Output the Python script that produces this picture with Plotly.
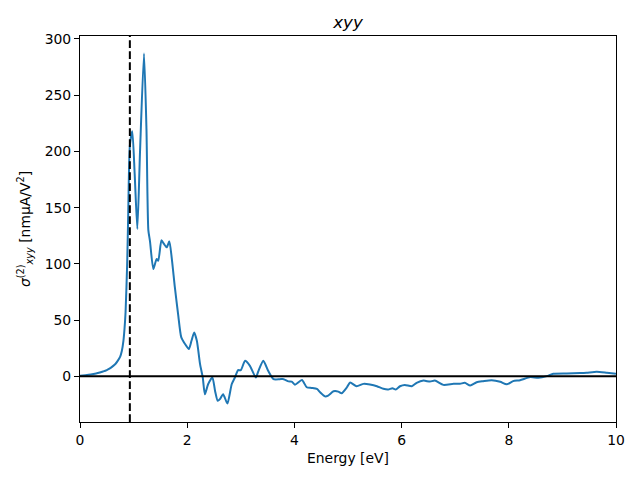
import plotly.graph_objects as go

energy = [0, 0.1, 0.2, 0.3, 0.37, 0.45, 0.5, 0.55, 0.62, 0.66, 0.7, 0.75, 0.78, 0.81, 0.83, 0.85, 0.88,
          0.90, 0.93, 0.976, 1.02, 1.07,
          1.12, 1.194, 1.24, 1.275, 1.306, 1.368, 1.43, 1.46, 1.52, 1.567, 1.617, 1.667, 1.71,
          1.77, 1.83, 1.89, 1.96, 2.03, 2.08, 2.13, 2.18, 2.24, 2.29, 2.33, 2.39, 2.47, 2.52,
          2.57, 2.61, 2.67, 2.75, 2.83, 2.89, 2.95, 3.0, 3.08, 3.17, 3.28, 3.33, 3.42, 3.51,
          3.61, 3.73, 3.80, 3.89, 3.95, 4.01, 4.14, 4.23, 4.32, 4.42, 4.48, 4.57, 4.63, 4.73,
          4.82, 4.88, 4.98, 5.04, 5.16, 5.29, 5.41, 5.54, 5.66, 5.75, 5.83, 5.89, 5.97, 6.06,
          6.19, 6.28, 6.41, 6.53, 6.62, 6.78, 6.97, 7.09, 7.18, 7.28, 7.40, 7.52, 7.68, 7.84,
          7.96, 8.08, 8.21, 8.40, 8.55, 8.71, 8.83, 9.08, 9.33, 9.45, 9.64, 9.83, 10.0]
sigma = [0.5, 1.0, 1.6, 2.5, 3.4, 4.6, 5.6, 6.8, 9.3, 11.0, 13.5, 17.5, 22.5, 31.6, 42, 57, 100,
         145, 205, 218, 180, 131,
         200, 287, 220, 130, 120, 95.5, 104.4, 102.8, 121, 117.7, 114.7, 120, 105.8,
         79, 55.4, 34.6, 28.7, 24.2, 31.6, 39, 31.6, 10.9, -1, -15.9, -7, -1, -13,
         -21.8, -20.3, -15.9, -24.2, -7, -1, 5.5, 5.5, 13.8, 9.3, -1, 4.9, 13.8, 4.9,
         -2.5, -2.5, -2.5, -4.5, -4.7, -7.4, -3.2, -9.7, -10.3, -11.2, -14.2, -17.8, -17.1, -13.3,
         -13.6, -15.1, -9.7, -5.5, -8.8, -6.7, -7.3, -8.8, -11.1, -11.7, -10.6, -11.7, -8.8, -7.6,
         -8.8, -5.8, -3.8, -4.7, -3.8, -7.6, -6.6, -6.6, -5.8, -8.1, -5.2, -4.3, -3.4, -4.8,
         -7.1, -4.3, -3.4, -0.7, -1.3, 0.2, 2.3, 2.6, 2.9, 3.2, 4.1, 3.2, 2.3]
gap_energy = 0.93
x_range = [0, 10]
y_range = [-40.6, 302.6]
x_ticks = [0, 2, 4, 6, 8, 10]
y_ticks = [0, 50, 100, 150, 200, 250, 300]

font = "DejaVu Sans"
fig = go.Figure()
fig.add_trace(go.Scatter(x=energy, y=sigma, mode="lines",
                         line=dict(color="#1f77b4", width=2, shape="spline", smoothing=0.6),
                         showlegend=False))
fig.add_trace(go.Scatter(x=x_range, y=[0, 0], mode="lines",
                         line=dict(color="black", width=2), showlegend=False))
fig.add_trace(go.Scatter(x=[gap_energy, gap_energy], y=y_range, mode="lines",
                         line=dict(color="black", width=2, dash="7.7px,3.3px"), showlegend=False))

axis_common = dict(showgrid=False, zeroline=False, showline=True, linecolor="black",
                   linewidth=1.1, mirror=True, ticks="outside", ticklen=5, tickwidth=1.1,
                   tickcolor="black", tickfont=dict(family=font, size=13.9, color="black"))
fig.update_xaxes(range=x_range, tickvals=x_ticks,
                 title=dict(text="Energy [eV]", font=dict(family=font, size=13.9, color="black"),
                            standoff=6), **axis_common)
fig.update_yaxes(range=y_range, tickvals=y_ticks,
                 title=dict(text="<i>σ</i><sup>(2)</sup><sub><i>xyy</i></sub> [nmμA/V<sup>2</sup>]",
                            font=dict(family=font, size=13.9, color="black"), standoff=10),
                 **axis_common)
fig.update_layout(
    width=640, height=480,
    margin=dict(l=80, r=24, t=36, b=58),
    plot_bgcolor="white", paper_bgcolor="white",
    title=dict(text="<i>xyy</i>", x=0.5, xref="paper", y=1, yref="paper", yanchor="bottom",
               xanchor="center", pad=dict(b=8), font=dict(family=font, size=16.7, color="black")),
)
fig.write_html("out.html")
